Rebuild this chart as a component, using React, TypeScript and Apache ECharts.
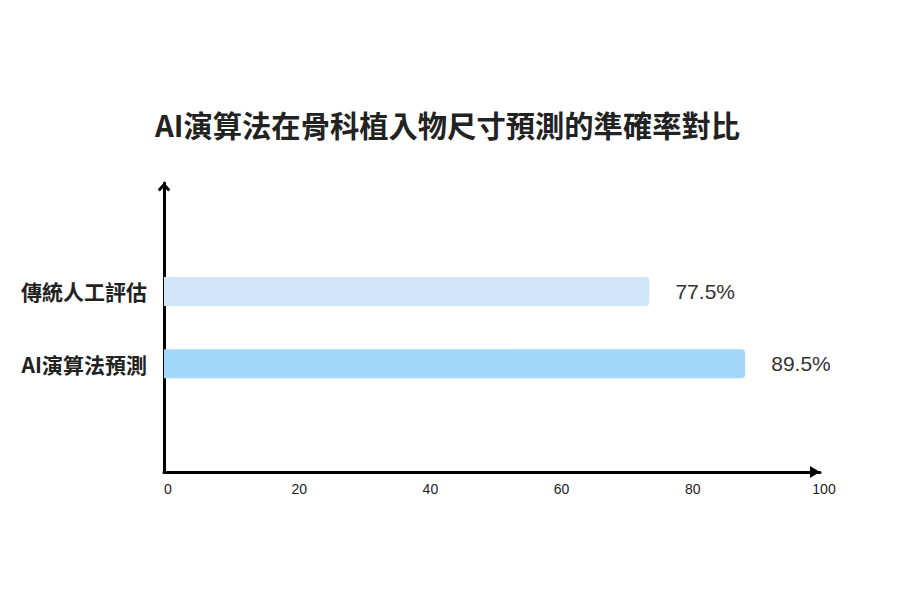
import { useEffect, useRef } from "react";
import * as echarts from "echarts";

// bottom -> top, blank slots pad the category axis like the original
const categories = ["", "AI演算法預測", "傳統人工評估", ""];
const accuracy = [null, 88.6, 74.0, null];
const valueLabels = ["", "89.5%", "77.5%", ""];
const barColors = ["#A2D8FB", "#A2D8FB", "#D1E7F9", "#D1E7F9"];
const xTicks = [0, 20, 40, 60, 80, 100];

const CJK = "'Noto Sans CJK TC', 'Noto Sans', sans-serif";
const LATIN = "'Liberation Sans', 'Noto Sans CJK TC', sans-serif";

export default function App() {
  const chartRef = useRef<HTMLDivElement>(null);

  useEffect(() => {
    if (!chartRef.current) return;
    const chart = echarts.init(chartRef.current, null, { renderer: "svg" });

    chart.setOption({
      animation: false,
      backgroundColor: "#ffffff",
      title: {
        text: "AI演算法在骨科植入物尺寸預測的準確率對比",
        left: 150,
        top: 104,
        textStyle: { fontFamily: CJK, fontSize: 29.3, fontWeight: "bold", color: "#222222" },
      },
      grid: { left: 164, right: 80, top: 183, bottom: 128 },
      xAxis: {
        type: "value",
        min: xTicks[0],
        max: xTicks[xTicks.length - 1],
        interval: 20,
        splitLine: { show: false },
        axisTick: { show: false },
        axisLine: {
          show: true,
          lineStyle: { color: "#000000", width: 3 },
          symbol: ["none", "triangle"],
          symbolSize: [12, 10],
          symbolOffset: [0, -5],
        },
        axisLabel: {
          fontFamily: LATIN,
          fontSize: 14,
          color: "#222222",
          margin: 10,
          padding: [0, 0, 0, 8],
        },
      },
      yAxis: {
        type: "category",
        data: categories,
        axisTick: { show: false },
        axisLine: {
          show: true,
          lineStyle: { color: "#000000", width: 3 },
          symbol: ["none", "path://M6,0 L12,6.5 L10,8.5 L6,4.2 L2,8.5 L0,6.5 Z"],
          symbolSize: [13, 9],
          symbolOffset: [0, -4],
        },
        axisLabel: {
          fontFamily: CJK,
          fontSize: 21,
          fontWeight: "bold",
          color: "#222222",
          margin: 17,
        },
      },
      series: [
        {
          type: "bar",
          data: accuracy.map((v, i) => ({ value: v, itemStyle: { color: barColors[i] } })),
          barWidth: 29,
          itemStyle: { borderRadius: [0, 4, 4, 0] },
          label: {
            show: true,
            position: "right",
            distance: 26,
            fontFamily: LATIN,
            fontSize: 21,
            color: "#333333",
            formatter: (p: any) => valueLabels[p.dataIndex],
          },
        },
      ],
    });

    return () => {
      chart.dispose();
    };
  }, []);

  return (
    <div
      ref={chartRef}
      style={{ position: "absolute", left: 0, top: 0, width: 900, height: 600 }}
    />
  );
}
